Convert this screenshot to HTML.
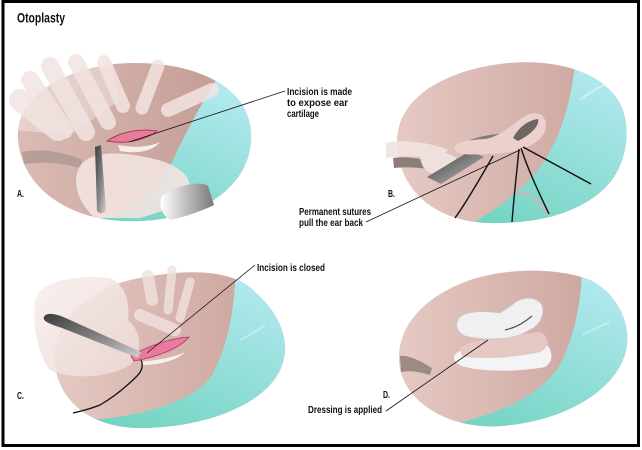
<!DOCTYPE html>
<html><head><meta charset="utf-8">
<style>
html,body{margin:0;padding:0;background:#fff;}
svg{display:block;}
text{font-family:"Liberation Sans Narrow","Liberation Sans",sans-serif;font-weight:bold;fill:#111;}
</style></head><body>
<svg width="642" height="450" viewBox="0 0 642 450" xmlns="http://www.w3.org/2000/svg">
<defs>
 <linearGradient id="skin" x1="0" y1="0" x2="1" y2="0">
  <stop offset="0" stop-color="#e6cbc4"/>
  <stop offset="0.75" stop-color="#cfaaa3"/>
  <stop offset="1" stop-color="#bf9791"/>
 </linearGradient>
 <linearGradient id="skinA" x1="0" y1="0" x2="1" y2="0">
  <stop offset="0" stop-color="#dcbcb5"/>
  <stop offset="1" stop-color="#be9890"/>
 </linearGradient>
 <linearGradient id="teal" x1="0.8" y1="0" x2="0.3" y2="1">
  <stop offset="0" stop-color="#b8ebf3"/>
  <stop offset="1" stop-color="#74d4c2"/>
 </linearGradient>
 <linearGradient id="steel" x1="0" y1="0" x2="1" y2="1">
  <stop offset="0" stop-color="#3c3c3c"/>
  <stop offset="0.6" stop-color="#8c8c8c"/>
  <stop offset="1" stop-color="#d0d0d0"/>
 </linearGradient>
 <linearGradient id="cyl" x1="0" y1="0" x2="1" y2="0">
  <stop offset="0" stop-color="#ffffff"/>
  <stop offset="1" stop-color="#787878"/>
 </linearGradient>
 <linearGradient id="hand" x1="0" y1="0" x2="1" y2="1">
  <stop offset="0" stop-color="#f7eeec"/>
  <stop offset="1" stop-color="#ecdad6"/>
 </linearGradient>
 <clipPath id="cA"><path d="M18,140 C 14,95 70,64 132,63 C 195,62 248,86 251,132 C 254,178 212,218 140,221 C 70,224 22,188 18,140 Z"/></clipPath>
 <clipPath id="cB"><path d="M397,142 C 397,100 440,72 500,64 C 555,57 600,72 618,100 C 633,125 628,165 605,188 C 580,212 540,224 490,223 C 435,222 398,190 397,142 Z"/></clipPath>
 <clipPath id="cC"><path d="M55,365 C 50,322 88,287 140,278 C 190,268 235,270 255,292 C 278,312 290,338 283,362 C 273,400 212,428 140,428 C 95,428 60,405 55,365 Z"/></clipPath>
 <clipPath id="cD"><path d="M399,362 C 397,325 425,296 470,280 C 510,267 560,268 590,280 C 615,292 630,320 627,345 C 622,385 572,420 502,426 C 446,430 402,400 399,362 Z"/></clipPath>
</defs>

<rect x="0" y="0" width="642" height="450" fill="#fff"/>

<!-- Panel A -->
<g clip-path="url(#cA)">
 <rect x="10" y="55" width="250" height="175" fill="url(#skinA)"/>
 <path d="M222,70 C 200,105 182,140 168,170 C 155,200 125,215 75,225 L 260,232 L 260,70 Z" fill="url(#teal)"/>
 <path d="M15,60 L 110,60 L 120,100 L 70,135 L 15,130 Z" fill="#f1e4e1" opacity="0.55"/>
</g>
<path d="M22,152 C 40,148 65,152 82,160 L 80,168 C 60,162 40,162 24,164 Z" fill="#a08e88" opacity="0.6"/>
<g stroke="#f2e4e1" stroke-linecap="round" opacity="0.85" fill="none">
 <path d="M20,100 L 58,130" stroke-width="22"/>
 <path d="M30,80 L 64,130" stroke-width="18"/>
 <path d="M50,66 L 86,132" stroke-width="18"/>
 <path d="M76,62 L 108,122" stroke-width="16"/>
 <path d="M104,62 L 123,106" stroke-width="14"/>
 <path d="M158,66 L 142,108" stroke-width="13"/>
 <path d="M212,90 L 168,110" stroke-width="14"/>
</g>
<path d="M78,170 C 85,152 115,150 150,158 C 175,163 192,175 190,190 C 185,205 160,212 140,218 L 95,218 C 80,205 72,185 78,170 Z" fill="#f2e3e0" opacity="0.9"/>
<path d="M118,145 C 135,148 150,147 160,142 C 152,152 135,154 120,151 Z" fill="#f7eeeb"/>
<path d="M107,141 C 120,132 140,128 157,131 C 148,139 128,145 107,141 Z" fill="#e57d9a" stroke="#a02848" stroke-width="0.8"/>
<path d="M95,147 L 101,145 L 106,210 C 104,214 99,214 97,211 Z" fill="url(#steel)"/>
<path d="M162,196 C 175,186 200,180 208,186 L 214,205 C 200,212 180,218 170,220 C 162,215 158,205 162,196 Z" fill="url(#cyl)"/>

<!-- Panel B -->
<g clip-path="url(#cB)">
 <rect x="390" y="55" width="245" height="175" fill="url(#skin)"/>
 <path d="M576,55 C 572,95 565,125 548,155 C 530,185 500,210 455,232 L 640,232 L 640,55 Z" fill="url(#teal)"/>
 <path d="M580,100 C 590,92 600,86 612,82" stroke="#d8f4f6" stroke-width="2" fill="none" opacity="0.7"/>
</g>
<path d="M386,143 C 400,139 430,142 448,150 L 440,158 C 420,156 400,156 386,158 Z" fill="#f1e3e0" opacity="0.9"/>
<path d="M393,158 C 405,156 420,158 430,162 L 428,169 C 415,167 404,167 394,168 Z" fill="#8e7e78"/>
<path d="M420,153 C 430,148 446,151 456,158 C 458,167 448,174 435,174 C 425,173 420,165 420,153 Z" fill="#efe0dd"/>
<polygon points="427,177 441,184 484,157 470,151" fill="url(#steel)"/>
<path d="M470,140 C 480,136 495,134 505,133 L 500,141 C 490,142 478,143 470,143 Z" fill="#857a78"/>
<path d="M455,150 C 452,143 465,140 485,139 C 500,137 512,124 527,115 C 540,109 549,118 545,131 C 540,145 518,153 490,154 C 470,155 457,155 455,150 Z" fill="#ebd0cb"/>
<path d="M513,138 C 518,128 528,120 538,119 C 540,126 530,135 518,141 Z" fill="#6e6464"/>
<path d="M510,193 C 525,190 540,200 547,214" stroke="#bdbdbd" stroke-width="3" fill="none"/>
<g stroke="#111" stroke-width="1.4" fill="none">
 <path d="M523,147 L 591,184"/>
 <path d="M521,148 C 528,170 540,195 549,214"/>
 <path d="M519,149 C 517,170 514,195 512,222"/>
 <path d="M493,156 C 482,175 468,200 455,218"/>
</g>

<!-- Panel C -->
<g clip-path="url(#cC)">
 <rect x="45" y="265" width="245" height="170" fill="url(#skin)"/>
 <path d="M236,262 C 235,310 228,345 212,375 C 195,400 150,415 90,420 L 90,440 L 300,440 L 300,262 Z" fill="url(#teal)"/>
 <path d="M240,340 C 250,335 258,330 265,325" stroke="#d8f4f6" stroke-width="2" fill="none" opacity="0.6"/>
</g>
<g stroke="#f1e2df" stroke-linecap="round" opacity="0.8" fill="none">
 <path d="M148,276 L 152,300" stroke-width="12"/>
 <path d="M172,270 L 168,310" stroke-width="9"/>
 <path d="M190,282 L 180,318" stroke-width="9"/>
 <path d="M140,315 L 175,330" stroke-width="12"/>
</g>
<path d="M35,300 C 40,280 80,274 110,278 C 125,285 130,300 128,320 C 140,330 145,350 130,365 C 110,378 70,380 50,370 C 38,355 32,325 35,300 Z" fill="url(#hand)" opacity="0.88"/>
<path d="M140,362 C 160,360 175,357 185,352 C 178,360 160,365 142,365 Z" fill="#f7f0ee"/>
<path d="M131,356 C 150,345 172,338 189,337 C 180,348 158,357 134,361 Z" fill="#ea7aa0" stroke="#b03060" stroke-width="0.8"/>
<path d="M44,317 C 46,312 56,313 70,320 L 141,352 L 138,358 L 62,328 C 50,324 42,321 44,317 Z" fill="url(#steel)"/>
<path d="M141,360 C 144,366 141,372 137,376 C 125,388 112,398 100,405 C 90,409 82,411 73,413" stroke="#111" stroke-width="1.3" fill="none"/>

<!-- Panel D -->
<g clip-path="url(#cD)">
 <rect x="390" y="262" width="245" height="170" fill="url(#skin)"/>
 <path d="M582,262 C 582,300 575,335 560,365 C 540,395 505,412 450,425 L 450,440 L 640,440 L 640,262 Z" fill="url(#teal)"/>
 <path d="M582,335 C 592,330 600,326 610,322" stroke="#d8f4f6" stroke-width="2" fill="none" opacity="0.6"/>
</g>
<path d="M400,356 C 410,355 422,362 432,368 L 430,375 C 420,372 410,370 401,372 Z" fill="#9c8b84"/>
<path d="M458,352 C 470,345 510,345 540,340 C 552,345 556,360 545,367 C 520,372 480,372 462,366 C 452,362 452,356 458,352 Z" fill="#f4f4f6"/>
<path d="M460,348 C 475,338 510,336 540,332 C 550,336 550,348 540,352 C 515,358 480,360 462,356 Z" fill="#e6c8c2"/>
<path d="M458,320 C 460,312 480,310 500,313 L 512,305 C 520,297 535,295 542,305 C 545,315 540,325 530,330 L 520,335 C 505,340 480,340 465,336 C 457,332 455,326 458,320 Z" fill="#f0f0f3" stroke="#c8c8cc" stroke-width="0.8"/>
<path d="M505,330 C 515,328 525,322 532,316" stroke="#555" stroke-width="1.2" fill="none"/>

<!-- leader lines -->
<g stroke="#111" stroke-width="0.8" fill="none">
 <path d="M285,91 L 129,142"/>
 <path d="M366,222 L 520,150"/>
 <path d="M255,265 L 147,353"/>
 <path d="M386,411 L 488,340"/>
</g>

<!-- text -->
<text x="17" y="22.5" font-size="13.5" textLength="48" lengthAdjust="spacingAndGlyphs">Otoplasty</text>
<g font-size="10.5">
 <text x="287" y="95" textLength="65" lengthAdjust="spacingAndGlyphs">Incision is made</text>
 <text x="287" y="106" textLength="61" lengthAdjust="spacingAndGlyphs">to expose ear</text>
 <text x="287" y="117" textLength="32" lengthAdjust="spacingAndGlyphs">cartilage</text>
 <text x="299" y="215" textLength="72" lengthAdjust="spacingAndGlyphs">Permanent sutures</text>
 <text x="299" y="226" textLength="64" lengthAdjust="spacingAndGlyphs">pull the ear back</text>
 <text x="257" y="271" textLength="68" lengthAdjust="spacingAndGlyphs">Incision is closed</text>
 <text x="308" y="413" textLength="74" lengthAdjust="spacingAndGlyphs">Dressing is applied</text>
 <text x="17" y="197" textLength="7" lengthAdjust="spacingAndGlyphs">A.</text>
 <text x="388" y="197" textLength="7" lengthAdjust="spacingAndGlyphs">B.</text>
 <text x="17" y="399" textLength="7" lengthAdjust="spacingAndGlyphs">C.</text>
 <text x="383" y="398" textLength="7" lengthAdjust="spacingAndGlyphs">D.</text>
</g>

<!-- border -->
<rect x="3" y="1.5" width="635.5" height="444" fill="none" stroke="#000" stroke-width="3"/>
</svg>
</body></html>
